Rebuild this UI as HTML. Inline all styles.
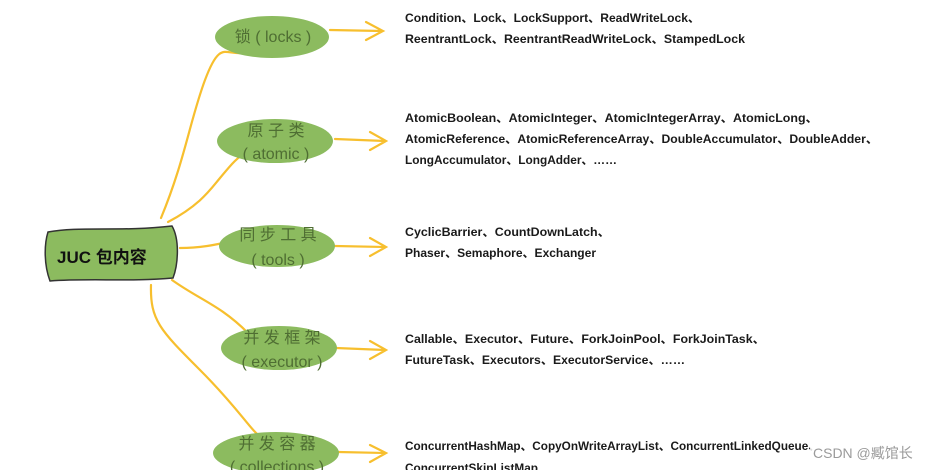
<!DOCTYPE html>
<html><head><meta charset="utf-8"><style>
html,body{margin:0;padding:0;background:#fff;width:941px;height:470px;overflow:hidden}
svg{display:block}
.t{font-family:"Liberation Sans","Noto Sans CJK SC",sans-serif;font-size:12px;fill:#1a1a1a;font-weight:bold}
.n{font-family:"Liberation Sans","Noto Sans CJK SC",sans-serif;font-size:16px;fill:#4f6e33}
</style></head><body>
<svg width="941" height="470" viewBox="0 0 941 470" xmlns="http://www.w3.org/2000/svg">
<g fill="none" stroke="#f7bf2e" stroke-width="2.2" stroke-linecap="round">
<path d="M161 218 C185 160,190 120,205 80 S225 55,242 53"/>
<path d="M168 222 C200 205,210 190,220 178 S235 160,242 155"/>
<path d="M180 248 C200 248,215 245,232 241"/>
<path d="M172 280 C200 300,220 305,248 333"/>
<path d="M151 285 C150 320,160 330,200 370 S250 430,262 438"/>
<path d="M330 30 L382 31 M366 22 L383 31 L366 40"/>
<path d="M335 139 L385 141 M370 132 L386 141 L370 150"/>
<path d="M335 246 L385 247 M370 238 L386 247 L370 256"/>
<path d="M336 348 L385 350 M370 341 L386 350 L370 359"/>
<path d="M338 452 L385 453 M370 445 L386 453 L370 462"/>
</g>
<g fill="#8cbb5f">
<ellipse cx="272" cy="37" rx="57" ry="21"/>
<ellipse cx="275" cy="141" rx="58" ry="22"/>
<ellipse cx="277" cy="246" rx="58" ry="21"/>
<ellipse cx="279" cy="348" rx="58" ry="22"/>
<ellipse cx="276" cy="453" rx="63" ry="21"/>
</g>
<path d="M48 232 C80 226,120 232,172 226 C180 240,178 265,173 278 C130 282,90 278,50 281 C44 265,44 245,48 232 Z" fill="#8cbb5f" stroke="#333" stroke-width="1.5"/>
<text x="57" y="263" font-family="Liberation Sans,Noto Sans CJK SC,sans-serif" font-size="17" font-weight="bold" fill="#111">JUC 包内容</text>
<g class="n" text-anchor="middle">
<text x="273" y="42">锁 ( locks )</text>
<text x="276" y="136">原 子 类</text>
<text x="276" y="159">( atomic )</text>
<text x="278" y="240">同 步 工 具</text>
<text x="278" y="265">( tools )</text>
<text x="282" y="343">并 发 框 架</text>
<text x="282" y="367">( executor )</text>
<text x="277" y="449">并 发 容 器</text>
<text x="277" y="472">( collections )</text>
</g>
<g class="t">
<text x="405" y="22" textLength="295" lengthAdjust="spacingAndGlyphs">Condition、Lock、LockSupport、ReadWriteLock、</text>
<text x="405" y="43" textLength="340" lengthAdjust="spacingAndGlyphs">ReentrantLock、ReentrantReadWriteLock、StampedLock</text>
<text x="405" y="122" textLength="413" lengthAdjust="spacingAndGlyphs">AtomicBoolean、AtomicInteger、AtomicIntegerArray、AtomicLong、</text>
<text x="405" y="143" textLength="473" lengthAdjust="spacingAndGlyphs">AtomicReference、AtomicReferenceArray、DoubleAccumulator、DoubleAdder、</text>
<text x="405" y="164" textLength="212" lengthAdjust="spacingAndGlyphs">LongAccumulator、LongAdder、……</text>
<text x="405" y="236" textLength="205" lengthAdjust="spacingAndGlyphs">CyclicBarrier、CountDownLatch、</text>
<text x="405" y="257" textLength="191" lengthAdjust="spacingAndGlyphs">Phaser、Semaphore、Exchanger</text>
<text x="405" y="343" textLength="360" lengthAdjust="spacingAndGlyphs">Callable、Executor、Future、ForkJoinPool、ForkJoinTask、</text>
<text x="405" y="364" textLength="280" lengthAdjust="spacingAndGlyphs">FutureTask、Executors、ExecutorService、……</text>
<text x="405" y="450" textLength="415" lengthAdjust="spacingAndGlyphs">ConcurrentHashMap、CopyOnWriteArrayList、ConcurrentLinkedQueue、</text>
<text x="405" y="472" textLength="133" lengthAdjust="spacingAndGlyphs">ConcurrentSkipListMap</text>
</g>
<rect x="810" y="440" width="120" height="26" fill="#fff" opacity="0.85"/>
<text x="813" y="458" font-family="Liberation Sans,Noto Sans CJK SC,sans-serif" font-size="14" fill="#9a9a9a">CSDN @臧馆长</text>
</svg>
</body></html>
